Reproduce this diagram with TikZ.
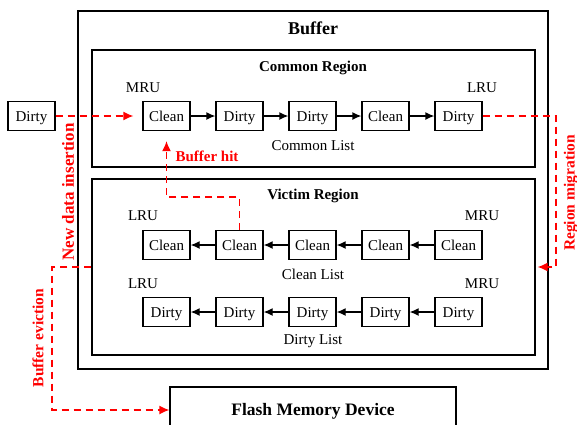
\documentclass[tikz,border=0pt]{standalone}
\usepackage{fontspec}
\setmainfont{Liberation Serif}
\usetikzlibrary{arrows.meta}

\begin{document}
\begin{tikzpicture}[x=1pt, y=-1pt, node distance=73pt,
		page node/.style={draw,line width=1.3pt,minimum width=47pt,minimum height=29pt,inner sep=0pt,text height=10pt,text depth=0pt,font=\fontsize{15}{18}\selectfont},
		region/.style={draw,line width=1.3pt,inner sep=0pt},
		title/.style={font=\fontsize{15}{18}\selectfont\bfseries},
		tag/.style={font=\fontsize{15}{18}\selectfont},
		pointer/.style={-{Latex[length=9pt,width=8pt]},line width=1.3pt},
		flow/.style={red,line width=1.3pt,dash pattern=on 7pt off 5pt,-{Latex[length=10pt,width=9pt]}},
		note/.style={red,font=\fontsize{15}{18}\selectfont\bfseries}]
		
		\useasboundingbox (0,0) rectangle (577,424);
		
		% regions
		\node[region,line width=1.6pt,minimum width=470pt,minimum height=358pt] (buffer) at (313,190) {};
		\node[region,minimum width=443pt,minimum height=117pt] (common) at (313.5,108.5) {};
		\node[region,minimum width=443pt,minimum height=176pt] (victim) at (313.5,267) {};
		\node[region,minimum width=286pt,minimum height=46pt] (flash) at (313,410) {};
		\node[title,font=\fontsize{18}{21}\selectfont\bfseries] at (313,28) {Buffer};
		\node[title] at (313,67.5) {Common Region};
		\node[title] at (313,195.5) {Victim Region};
		\node[title,font=\fontsize{17.5}{21}\selectfont\bfseries] at (313,411) {Flash Memory Device};
		
		% common list
		\node[page node] (c1) at (166.5,116) {Clean};
		\node[page node] (c2) [right of=c1] {Dirty};
		\node[page node] (c3) [right of=c2] {Dirty};
		\node[page node] (c4) [right of=c3] {Clean};
		\node[page node] (c5) [right of=c4] {Dirty};
		\node[tag] at (143,88) {MRU};
		\node[tag] at (482,88) {LRU};
		\node[tag] at (313,146) {Common List};
		
		% clean list
		\node[page node] (v1) at (166.5,245) {Clean};
		\node[page node] (v2) [right of=v1] {Clean};
		\node[page node] (v3) [right of=v2] {Clean};
		\node[page node] (v4) [right of=v3] {Clean};
		\node[page node] (v5) [right of=v4] {Clean};
		\node[tag] at (143,216) {LRU};
		\node[tag] at (482,216) {MRU};
		\node[tag] at (313,274) {Clean List};
		
		% dirty list
		\node[page node] (d1) at (166.5,312) {Dirty};
		\node[page node] (d2) [right of=d1] {Dirty};
		\node[page node] (d3) [right of=d2] {Dirty};
		\node[page node] (d4) [right of=d3] {Dirty};
		\node[page node] (d5) [right of=d4] {Dirty};
		\node[tag] at (143,284) {LRU};
		\node[tag] at (482,284) {MRU};
		\node[tag] at (313,341) {Dirty List};
		
		\node[page node] (new) at (31.5,116) {Dirty};
		
		\path
		(c1) edge [pointer] (c2)
		(c2) edge [pointer] (c3)
		(c3) edge [pointer] (c4)
		(c4) edge [pointer] (c5)
		(v2) edge [pointer] (v1)
		(v3) edge [pointer] (v2)
		(v4) edge [pointer] (v3)
		(v5) edge [pointer] (v4)
		(d2) edge [pointer] (d1)
		(d3) edge [pointer] (d2)
		(d4) edge [pointer] (d3)
		(d5) edge [pointer] (d4);
		
		% red flows
		\coordinate (hit) at (200,197);
		\coordinate (mig) at (556,116);
		\coordinate (evict) at (52,267);
		\draw[flow,shorten >=9pt] (new) -- (c1);
		\draw[flow,shorten >=10pt] (v2.north) -- (v2.north |- hit) -| (c1.south);
		\draw[flow,shorten >=2pt] (c5.east) -- (mig) |- (victim.east);
		\draw[flow] (victim.west) -- (evict) |- (flash.west);
		
		\node[note] at (207,156) {Buffer hit};
		\node[note,rotate=90,font=\fontsize{17}{20}\selectfont\bfseries] at (68,192) {New data insertion};
		\node[note,rotate=90,font=\fontsize{15.5}{18}\selectfont\bfseries] at (571,193) {Region migration};
		\node[note,rotate=90,font=\fontsize{15.5}{18}\selectfont\bfseries] at (38,338) {Buffer eviction};
	\end{tikzpicture}
\end{document}
